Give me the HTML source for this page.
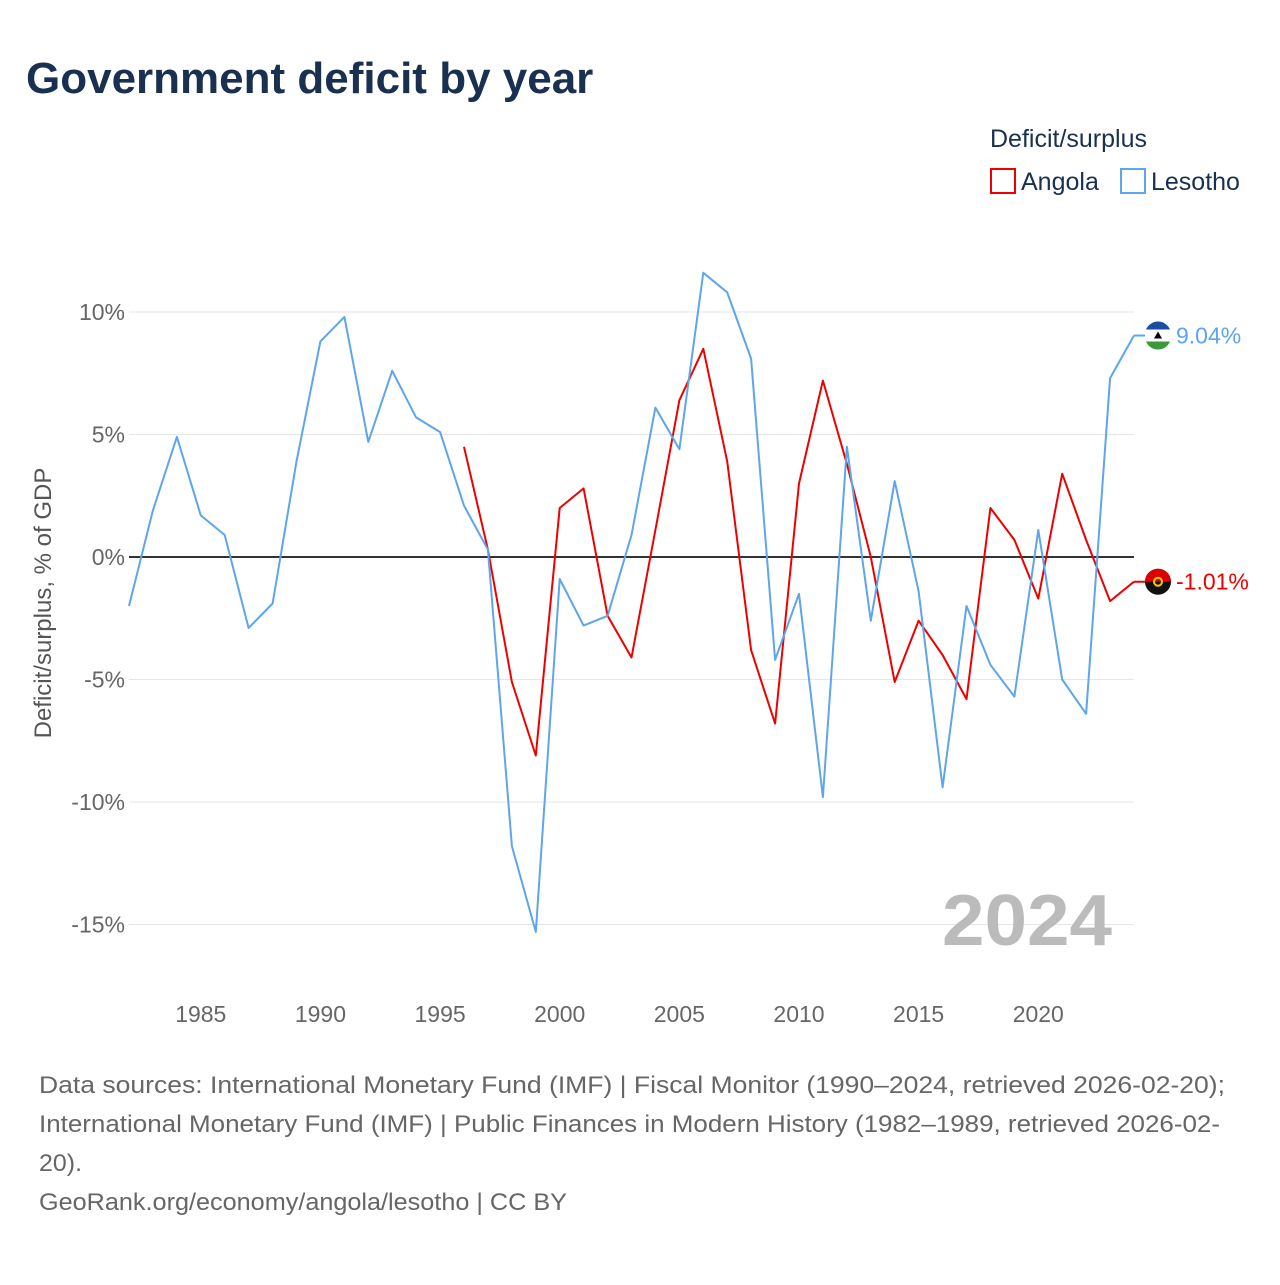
<!DOCTYPE html>
<html><head><meta charset="utf-8">
<style>
html,body{margin:0;padding:0;background:#fff;}
body{width:1280px;height:1280px;overflow:hidden;font-family:"Liberation Sans",sans-serif;}
</style></head>
<body>
<svg id="chart" width="1280" height="1280" xmlns="http://www.w3.org/2000/svg" font-family="Liberation Sans, sans-serif">
<text x="26" y="93" font-size="44" font-weight="bold" fill="#1a3050">Government deficit by year</text>
<text x="990" y="147" font-size="25" fill="#1a3050">Deficit/surplus</text>
<g>
<rect x="991" y="169" width="24" height="24" fill="none" stroke="#ee0000" stroke-width="2"/>
<text x="1021" y="190" font-size="25" fill="#1a3050">Angola</text></g>
<g>
<rect x="1121" y="169" width="24" height="24" fill="none" stroke="#5da5ec" stroke-width="2"/>
<text x="1151" y="190" font-size="25" fill="#1a3050">Lesotho</text></g>
<text transform="translate(51,603) rotate(-90)" text-anchor="middle" font-size="24" fill="#555">Deficit/surplus, % of GDP</text>
<g id="grid"></g>
<text x="942" y="945" textLength="170" lengthAdjust="spacingAndGlyphs" font-size="72" font-weight="bold" fill="#bbb">2024</text>
<g id="series"></g>
<g font-size="24" fill="#666">
<text x="39" y="1093" textLength="1186" lengthAdjust="spacingAndGlyphs">Data sources: International Monetary Fund (IMF) | Fiscal Monitor (1990–2024, retrieved 2026-02-20);</text>
<text x="39" y="1132" textLength="1181" lengthAdjust="spacingAndGlyphs">International Monetary Fund (IMF) | Public Finances in Modern History (1982–1989, retrieved 2026-02-</text>
<text x="39" y="1171" textLength="43" lengthAdjust="spacingAndGlyphs">20).</text>
<text x="39" y="1210" textLength="528" lengthAdjust="spacingAndGlyphs">GeoRank.org/economy/angola/lesotho | CC BY</text>
</g>
</svg>
<script>
const years = [];
for (let y = 1982; y <= 2024; y++) years.push(y);
const lesotho = [-2.0,1.9,4.9,1.7,0.9,-2.9,-1.9,3.9,8.8,9.8,4.7,7.6,5.7,5.1,2.1,0.3,-11.8,-15.3,-0.9,-2.8,-2.4,0.9,6.1,4.4,11.6,10.8,8.1,-4.2,-1.5,-9.8,4.5,-2.6,3.1,-1.4,-9.4,-2.0,-4.4,-5.7,1.1,-5.0,-6.4,7.3,9.04];
const angolaYears = [];
for (let y = 1996; y <= 2024; y++) angolaYears.push(y);
const angola = [4.5,0.3,-5.1,-8.1,2.0,2.8,-2.4,-4.1,1.1,6.4,8.5,3.9,-3.8,-6.8,3.0,7.2,3.8,0.0,-5.1,-2.6,-4.0,-5.8,2.0,0.7,-1.7,3.4,0.7,-1.8,-1.01];
const yTicks = [10,5,0,-5,-10,-15];
const yTickLabels = ["10%","5%","0%","-5%","-10%","-15%"];
const xTicks = [1985,1990,1995,2000,2005,2010,2015,2020];

const NS = "http://www.w3.org/2000/svg";
function xs(yr){ return 129 + (yr-1982)*(1134-129)/42; }
function ys(v){ return 557 - v*24.5; }
function mk(tag, attrs, parent){ const e=document.createElementNS(NS,tag); for(const k in attrs) e.setAttribute(k,attrs[k]); parent.appendChild(e); return e; }

const grid = document.getElementById('grid');
yTicks.forEach((t,i)=>{
  const l = mk('line',{x1:129,x2:1134,y1:ys(t),y2:ys(t),stroke:t===0?'#333':'#e6e6e6','stroke-width':t===0?2:1},grid);
  
  
  const tx = mk('text',{x:125,y:ys(t)+8,'text-anchor':'end','font-size':23,fill:'#666'},grid);
  tx.textContent = yTickLabels[i];
  
  
});
xTicks.forEach(t=>{
  const tx = mk('text',{x:xs(t),y:1022,'text-anchor':'middle','font-size':23,fill:'#666'},grid);
  tx.textContent = t;
  
  
});

const ser = document.getElementById('series');
function drawLine(yrs, vals, color, name){
  const d = yrs.map((y,i)=>(i?'L':'M')+xs(y).toFixed(1)+','+ys(vals[i]).toFixed(1)).join('');
  const p = mk('path',{d:d,fill:'none',stroke:color,'stroke-width':2,'stroke-linejoin':'round'},ser);
  
  
  const last = vals[vals.length-1];
  const ly = ys(last);
  mk('line',{x1:1134,x2:1146,y1:ly,y2:ly,stroke:color,'stroke-width':2},ser);
  const c = mk('circle',{cx:1158,cy:ly,r:13,fill:name==='angola'?'#111':'#fff'},ser);
  
  
  if(name==='angola'){
    mk('path',{d:`M1145,${ly} A13,13 0 0 1 1171,${ly} Z`,fill:'#d00'},ser);
    mk('circle',{cx:1158,cy:ly,r:4,fill:'none',stroke:'#fc0','stroke-width':2},ser);
  } else {
    mk('path',{d:`M1146,${ly-6} A13,13 0 0 1 1170,${ly-6} Z`,fill:'#1a4fa0'},ser);
    mk('path',{d:`M1146,${ly+6} A13,13 0 0 0 1170,${ly+6} Z`,fill:'#3a9a3a'},ser);
    mk('path',{d:`M1154,${ly+3} L1158,${ly-4} L1162,${ly+3} Z`,fill:'#000'},ser);
  }
  const t = mk('text',{x:1176,y:ly+8,'font-size':23,fill:color},ser);
  t.textContent = last.toFixed(2)+'%';
  
  
}
drawLine(angolaYears, angola, '#ee0000', 'angola');
drawLine(years, lesotho, '#5da5ec', 'lesotho');
</script>
</body></html>
